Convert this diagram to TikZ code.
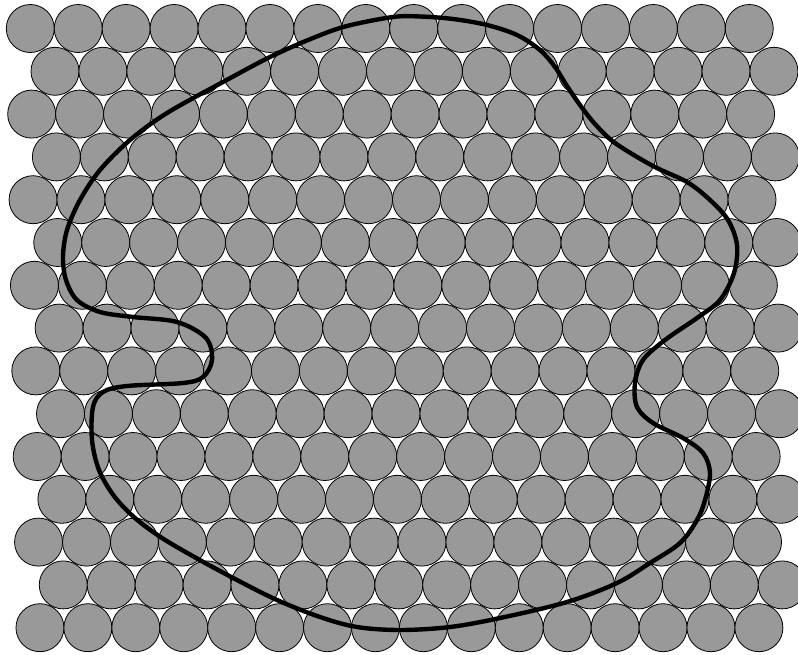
\documentclass[tikz,border=0pt]{standalone}
\definecolor{cellgray}{RGB}{153,153,153}
\begin{document}
\begin{tikzpicture}[x=1pt,y=-1pt,
  cell/.style={fill=cellgray,draw=black,line width=0.8pt},
  boundary/.style={draw=black,line width=4.4pt,line join=round}]
\useasboundingbox (0,0) rectangle (798,654);
\foreach \i in {0,...,14}{
  \foreach \j in {0,...,15}{
    \pgfmathsetmacro\cx{30.3+0.69*\i+24*mod(\i,2)+47.93*\j}
    \pgfmathsetmacro\cy{28.5+42.8*\i}
    \path[cell] (\cx,\cy) circle[radius=24pt];
  }
}
\draw[boundary] plot[smooth cycle, tension=0.55] coordinates {
 (347,26) (393,17) (420,16.5) (453,19) (487,25) (517,35) (540,50) (555,67)
 (567,86) (580,105) (595,124) (615,143) (653,166) (687,182) (710,200) (728,220)
 (737,245) (734,273) (720,300) (697,318) (665,340) (643,360) (635,383) (637,407)
 (653,423) (683,438) (703,453) (710,473) (705,500) (697,520) (680,543) (650,563)
 (617,583) (567,602) (500,618) (450,627) (400,630) (357,627) (320,617) (277,600)
 (237,580) (198,559) (162,538) (135,518) (114,496) (99,470) (92,440) (93,407)
 (103,392) (127,386) (183,383) (203,377) (212,360) (206,338) (177,322) (133,317)
 (100,312) (77,300) (66,280) (63,257) (67,230) (80,200) (100,170) (130,140)
 (167,113) (223,82) (270,57) (313,38)};
\end{tikzpicture}
\end{document}
